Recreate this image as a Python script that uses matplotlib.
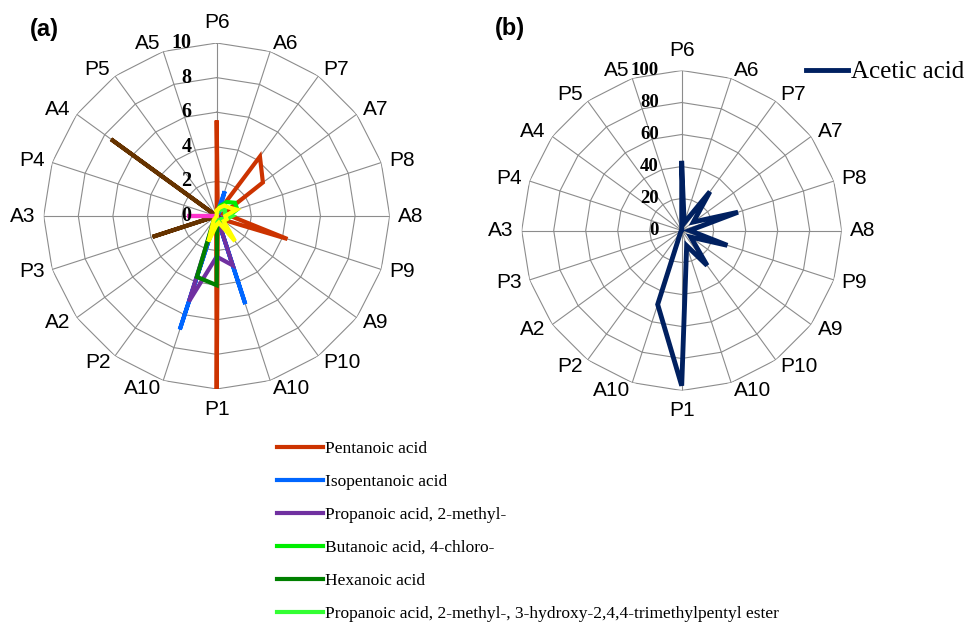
import numpy as np
import matplotlib
matplotlib.use("Agg")
import matplotlib.pyplot as plt
from matplotlib.font_manager import FontProperties

# categories, clockwise from the top
categories = ['P6', 'A6', 'P7', 'A7', 'P8', 'A8', 'P9', 'A9', 'P10', 'A10',
              'P1', 'A10', 'P2', 'A2', 'P3', 'A3', 'P4', 'A4', 'P5', 'A5']

# panel (a) series
pentanoic = [5.4, 0.2, 4.25, 3.3, 0.4, 0.8, 4.3, 0.3, 0.2, 0.2, 10.0, 0.1, 0, 0, 0, 0, 0, 0, 0, 0]
isopentanoic = [0.1, 1.5, 0.2, 0, 0, 0, 0, 0, 0, 5.35, 0, 6.9, 0, 0, 0, 0, 0, 0, 0, 0]
methylpropanoic = [0, 0, 0, 0, 0, 0, 0.3, 0.5, 0, 3.0, 2.35, 5.2, 0.2, 0, 0, 0, 0, 0, 0, 0]
chlorobutanoic = [0.2, 0.6, 1.0, 1.3, 1.25, 0.7, 0.6, 0.4, 0.3, 0.3, 0.5, 0.4, 0, 0, 0, 0, 0, 0, 0, 0]
hexanoic = [0, 0, 0, 0, 0, 0, 0, 0, 0, 0.1, 4.0, 3.7, 0.3, 0, 0, 0, 0, 0, 0, 0]
ester = [0.1, 0.3, 0.5, 0.6, 0.5, 0.9, 0.6, 0.3, 0.2, 0.2, 0.6, 0.3, 0.1, 0, 0, 0, 0, 0, 0, 0]
brown_series = [0, 0, 0, 0, 0, 0, 0, 0, 0, 0, 0, 0, 0, 0, 3.9, 0, 0, 7.55, 0, 0]
pink_series = [0, 0, 0, 0, 0, 0, 0, 0, 0, 0, 0, 0, 0, 0, 0, 1.73, 0, 0, 0, 0]
yellow_series = [0.3, 0.5, 0.75, 0.85, 1.2, 0.5, 0.6, 0.5, 1.8, 0.4, 0.5, 1.55, 0.3, 0, 0, 0, 0, 0, 0, 0]

# panel (b)
acetic = [42, 5, 30, 9, 37, 5, 30, 7, 27, 10, 97, 48.6, 1, 0, 0, 0, 0, 0, 0, 0]

ticks_a = [0, 2, 4, 6, 8, 10]
ticks_b = [0, 20, 40, 60, 80, 100]

series_a = [
    ('Pentanoic acid', pentanoic, '#CC3300'),
    ('Isopentanoic acid', isopentanoic, '#0066FF'),
    ('Propanoic acid, 2-methyl-', methylpropanoic, '#7030A0'),
    ('Butanoic acid, 4-chloro-', chlorobutanoic, '#00EE00'),
    ('Hexanoic acid', hexanoic, '#008000'),
    ('Propanoic acid, 2-methyl-, 3-hydroxy-2,4,4-trimethylpentyl ester', ester, '#33FF33'),
    (None, brown_series, '#663300'),
    (None, pink_series, '#FF33CC'),
    (None, yellow_series, '#FFFF00'),
]

sans = 'Liberation Sans'
serif = 'Liberation Serif'
grid_col = '#8c8c8c'


def radar_frame(ax, ticks, tick_dx, tick_size):
    n = len(categories)
    theta = np.arange(n) * 2 * np.pi / n
    rmax = ticks[-1]
    ax.set_theta_zero_location('N')
    ax.set_theta_direction(-1)
    ax.set_ylim(0, rmax)
    ax.set_xticks([])
    ax.set_yticks([])
    ax.grid(False)
    ax.spines['polar'].set_visible(False)
    ax.patch.set_alpha(0)
    closed = np.append(theta, theta[0])
    for r in ticks[1:]:
        ax.plot(closed, [r] * (n + 1), color=grid_col, lw=0.8, zorder=1)
    for t in theta:
        ax.plot([t, t], [0, rmax], color=grid_col, lw=0.8, zorder=1)
    # category labels sit just outside each vertex, aligned away from the centre
    for t, lab in zip(theta, categories):
        s, c = np.sin(t), np.cos(t)
        if abs(s) < 0.1:
            off, ha = 14.5, 'center'
        else:
            off, ha = 5.8, ('left' if s > 0 else 'right')
        ax.annotate(lab, xy=(t, rmax), xytext=(off * s, off * c), textcoords='offset points',
                    ha=ha, va='center', fontsize=15, family=sans, annotation_clip=False)
    for v in ticks:
        ax.annotate(str(v), xy=(0, v), xytext=(tick_dx, 0), textcoords='offset points',
                    ha='right', va='center', fontsize=tick_size, family=serif,
                    fontweight='bold', annotation_clip=False, zorder=5)
    return closed


fig = plt.figure(figsize=(9.72, 6.27), dpi=100)

# panel (a): centre (216.7, 216) px, radius 173 px
ax1 = fig.add_axes([43.7 / 972, (627 - 389) / 627, 346 / 972, 346 / 627], projection='polar')
closed = radar_frame(ax1, ticks_a, -18, 14.5)
handles = []
for name, vals, col in series_a:
    ln, = ax1.plot(closed, np.append(vals, vals[0]), color=col, lw=3,
                   solid_joinstyle='miter', zorder=3)
    if name:
        handles.append((ln, name))

# panel (b): centre (681.7, 230.5) px, radius 160 px
ax2 = fig.add_axes([521.7 / 972, (627 - 390.5) / 627, 320 / 972, 320 / 627], projection='polar')
closed_b = radar_frame(ax2, ticks_b, -16.5, 13.5)
ln_b, = ax2.plot(closed_b, np.append(acetic, acetic[0]), color='#002060', lw=3.5,
                 solid_joinstyle='miter', zorder=3)

fig.text(30 / 972, 1 - 29.5 / 627, '(a)', fontsize=17, fontweight='bold', family=sans,
         ha='left', va='center')
fig.text(495 / 972, 1 - 28.5 / 627, '(b)', fontsize=17, fontweight='bold', family=sans,
         ha='left', va='center')

fig.legend([h for h, _ in handles], [n for _, n in handles], loc='upper left',
           bbox_to_anchor=(277 / 972, 1 - 441 / 627), frameon=False,
           prop=FontProperties(family=serif, size=12.5), handlelength=2.65,
           handletextpad=0.12, labelspacing=0.97, borderpad=0, borderaxespad=0)
fig.legend([ln_b], ['Acetic acid'], loc='upper left',
           bbox_to_anchor=(806 / 972, 1 - 61 / 627), frameon=False,
           prop=FontProperties(family=serif, size=18), handlelength=1.68,
           handletextpad=0.12, borderpad=0, borderaxespad=0)

fig.savefig('out.png', dpi=100)
